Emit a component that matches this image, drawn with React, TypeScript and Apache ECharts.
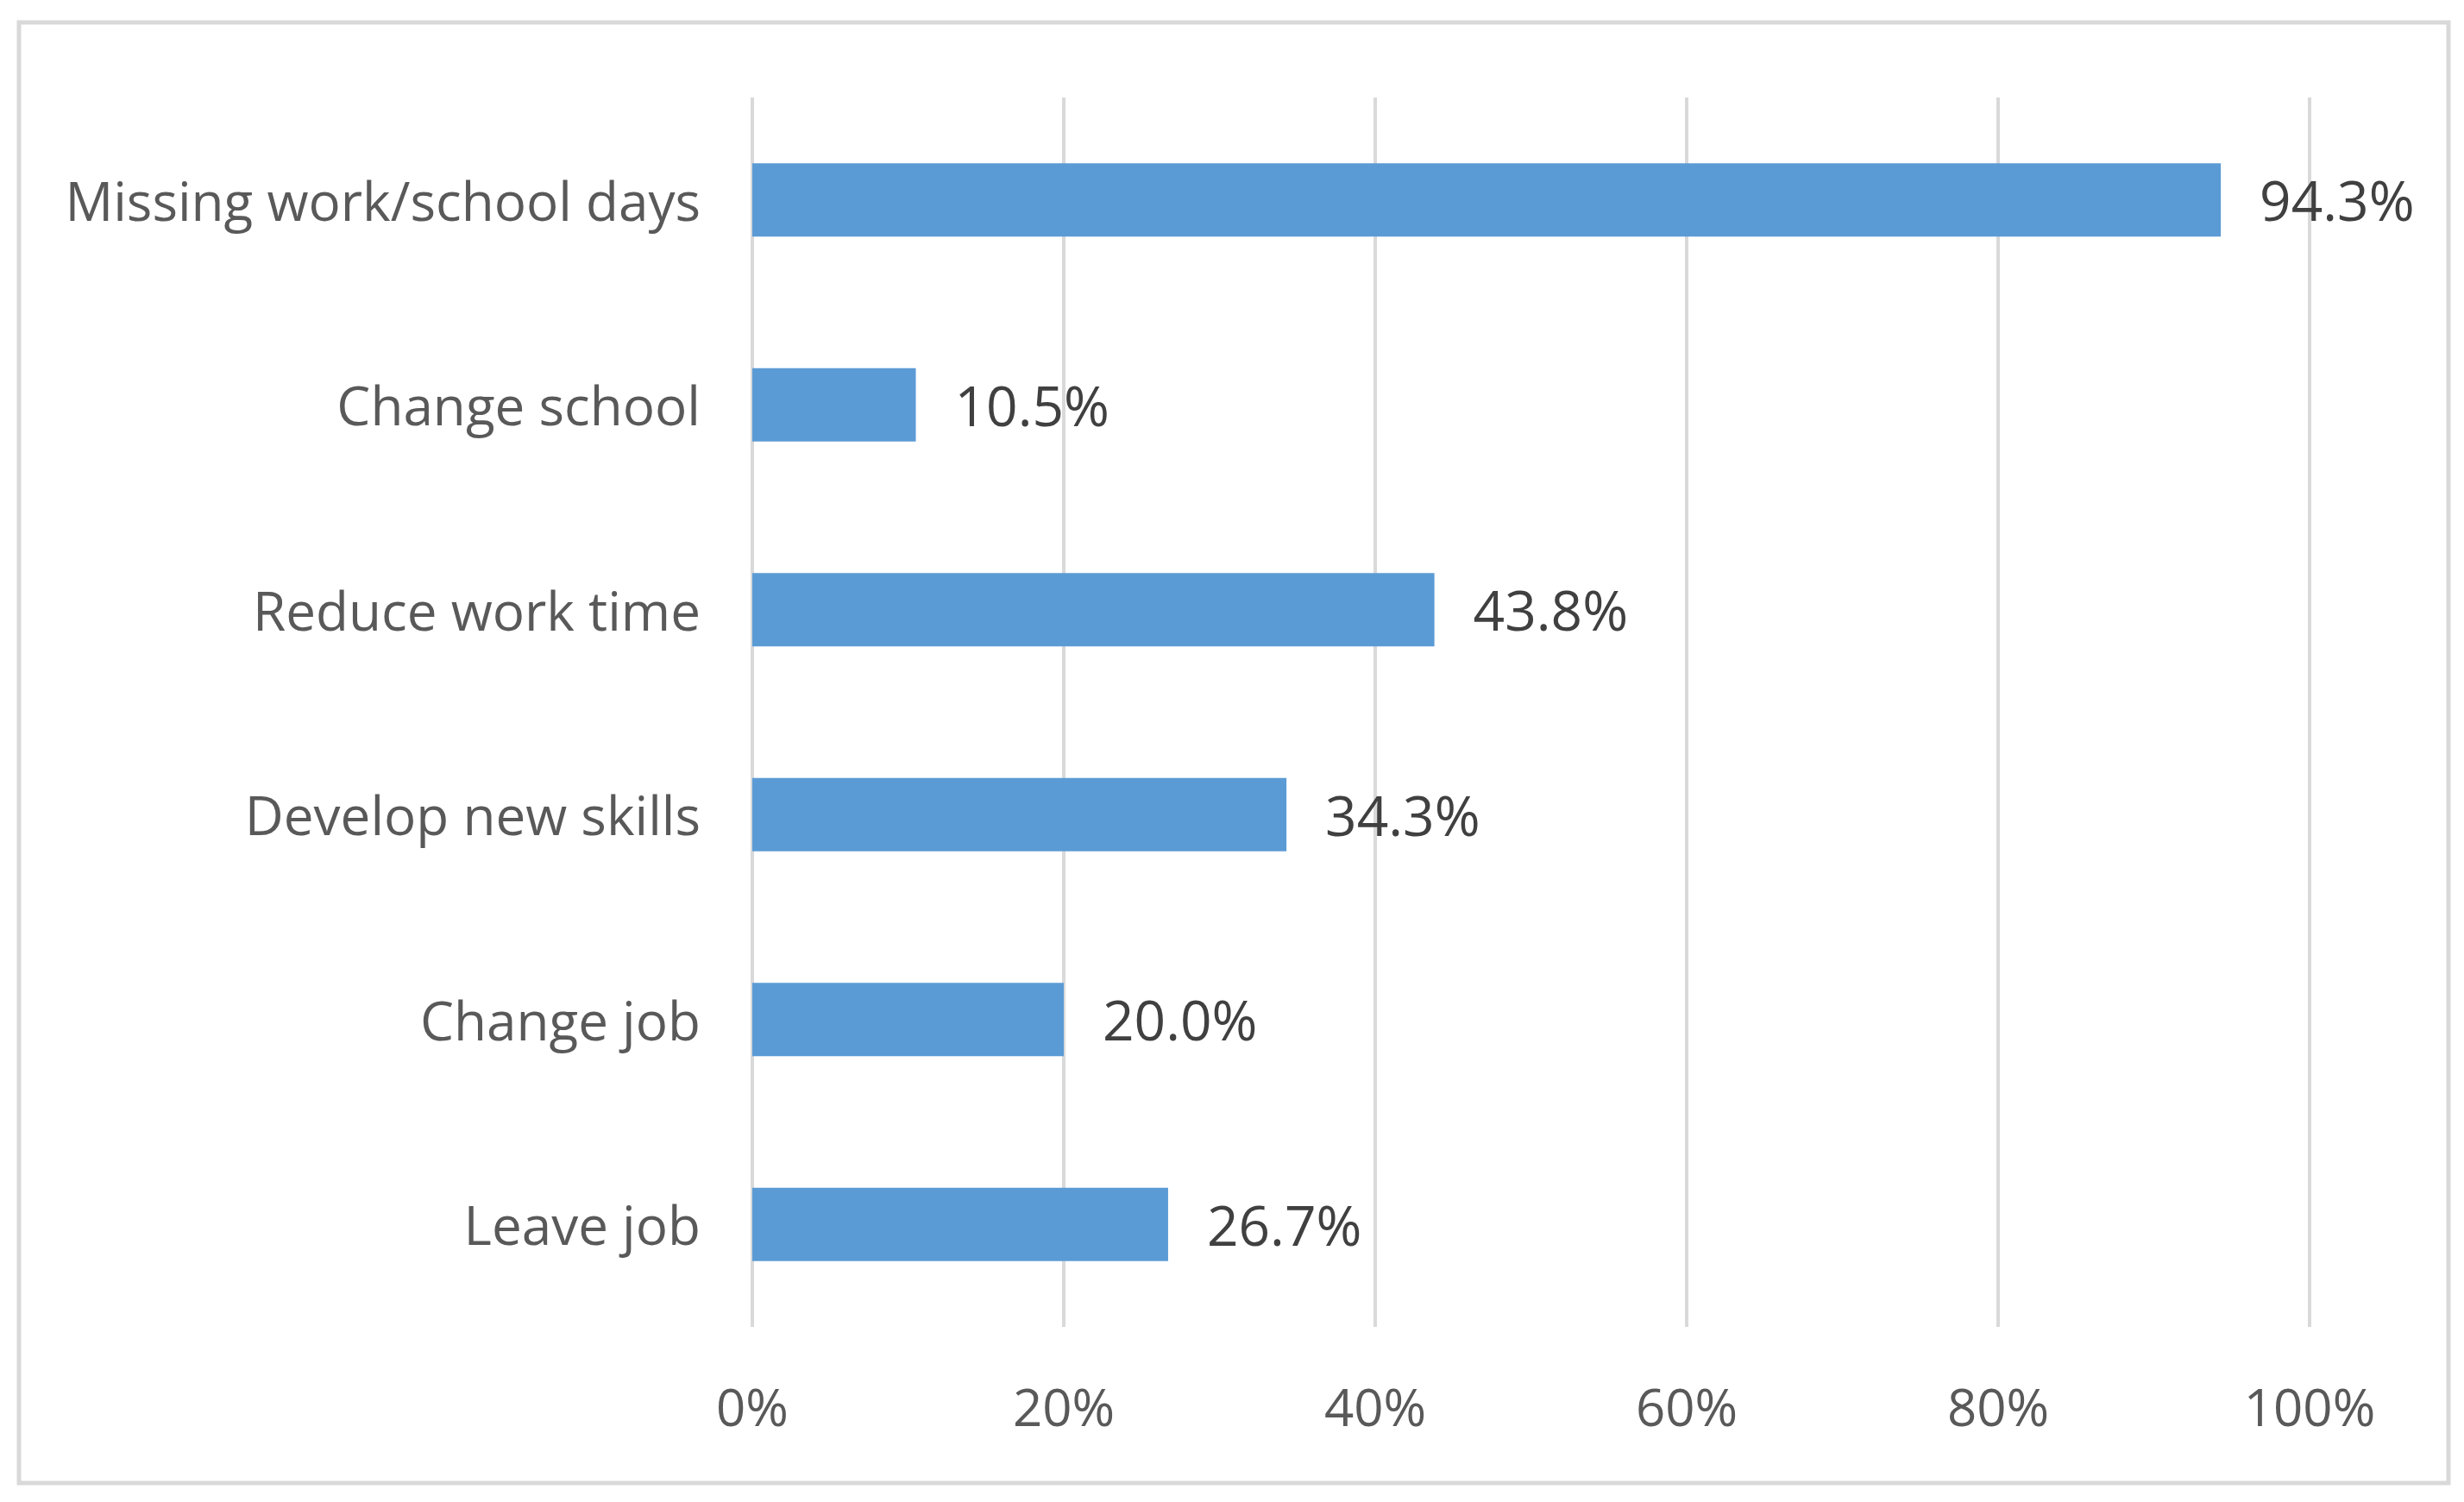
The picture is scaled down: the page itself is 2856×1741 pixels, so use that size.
import React, { useEffect, useRef } from "react";
import * as echarts from "echarts";

const categories = [
  "Missing work/school days",
  "Change school",
  "Reduce work time",
  "Develop new skills",
  "Change job",
  "Leave job",
];
const values = [94.3, 10.5, 43.8, 34.3, 20.0, 26.7];
const xTicks = { min: 0, max: 100, interval: 20 };

export default function App() {
  const ref = useRef<HTMLDivElement>(null);
  useEffect(() => {
    if (!ref.current) return;
    const chart = echarts.init(ref.current, undefined, { renderer: "svg" });
    chart.setOption({
      animation: false,
      backgroundColor: "#ffffff",
      textStyle: { fontFamily: "Open Sans" },
      graphic: [
        {
          type: "rect",
          shape: { x: 22, y: 26, width: 2816, height: 1693 },
          style: { fill: "none", stroke: "#d9d9d9", lineWidth: 5 },
          silent: true,
        },
      ],
      grid: { left: 872, right: 179, top: 113, bottom: 203, containLabel: false },
      xAxis: {
        type: "value",
        min: xTicks.min,
        max: xTicks.max,
        interval: xTicks.interval,
        axisLine: { show: false },
        axisTick: { show: false },
        splitLine: { show: true, lineStyle: { color: "#d9d9d9", width: 4 } },
        axisLabel: {
          formatter: "{value}%",
          fontSize: 60,
          color: "#595959",
          fontFamily: "Open Sans",
          margin: 62,
        },
      },
      yAxis: {
        type: "category",
        data: categories,
        inverse: true,
        axisLine: { show: false },
        axisTick: { show: false },
        splitLine: { show: false },
        axisLabel: {
          fontSize: 62,
          color: "#595959",
          fontFamily: "Open Sans",
          margin: 60,
        },
      },
      series: [
        {
          type: "bar",
          data: values,
          barWidth: 85,
          itemStyle: { color: "#5b9bd5" },
          label: {
            show: true,
            position: "right",
            distance: 45,
            fontSize: 64,
            color: "#404040",
            fontFamily: "Open Sans",
            formatter: (p: any) => Number(p.value).toFixed(1) + "%",
          },
        },
      ],
    });
    return () => chart.dispose();
  }, []);
  return (
    <div
      ref={ref}
      style={{ position: "absolute", left: 0, top: 0, width: 2856, height: 1741 }}
    />
  );
}
